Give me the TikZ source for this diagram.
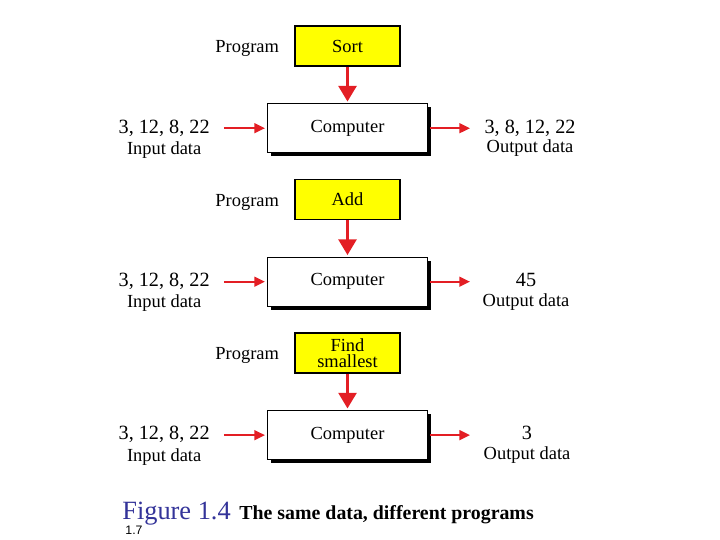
\documentclass[tikz,border=0pt]{standalone}
\usepackage{fontspec}
\setmainfont{Liberation Serif}
\setsansfont{Liberation Sans}
\usetikzlibrary{arrows.meta,positioning,shadows}
\definecolor{progyellow}{HTML}{FFFF00}
\definecolor{flowred}{HTML}{E31E24}
\definecolor{capblue}{HTML}{333399}
\tikzset{
  prog/.style={rectangle,draw=black,line width=0.8pt,fill=progyellow,
               minimum width=2.1cm,minimum height=0.8cm,align=center,
               font=\fontsize{10.5}{9}\selectfont,inner sep=0pt},
  comp/.style={rectangle,draw=black,line width=0.6pt,fill=white,
               minimum width=3.2cm,minimum height=0.98cm,
               drop shadow={shadow xshift=0.07cm,shadow yshift=-0.07cm,
                            fill=black,opacity=1},
               font=\fontsize{10.5}{12}\selectfont},
  lbl/.style={font=\fontsize{10.5}{12}\selectfont,inner sep=0pt,
              text height=7.5pt,text depth=2.2pt},
  plbl/.style={lbl,text depth=0pt},
  val/.style={font=\fontsize{11.5}{12}\selectfont,inner sep=0pt,
              text height=7.5pt,text depth=2pt},
  parr/.style={-{Triangle[length=9pt,width=10pt]},line width=2.2pt,
               color=flowred,shorten >=0.03cm},
  darr/.style={-{Triangle[length=6pt,width=5.5pt]},line width=1.2pt,
               color=flowred},
}
\begin{document}
\begin{tikzpicture}[node distance=0.73cm and 1cm]
  \useasboundingbox (0,0) rectangle (14.4,10.8);

  \node[prog] (sort) at (6.95,9.88) {Sort};
  \node[comp, below=0.73cm of sort] (c1) {Computer};
  \node[prog, below=0.51cm of c1]   (add) {Add};
  \node[comp, below=0.73cm of add]  (c2) {Computer};
  \node[prog, below=0.51cm of c2]   (find) {Find\\smallest};
  \node[comp, below=0.73cm of find] (c3) {Computer};

  \node[plbl, left=0.3cm of sort] (p1) {Program};
  \node[plbl, left=0.3cm of add]  (p2) {Program};
  \node[plbl, left=0.3cm of find] (p3) {Program};

  \node[val, left=1.14cm of c1] (in1) {3, 12, 8, 22};
  \node[lbl, below=0.08cm of in1] (il1) {Input data};
  \node[val, left=1.14cm of c2] (in2) {3, 12, 8, 22};
  \node[lbl, below=0.08cm of in2] (il2) {Input data};
  \node[val, left=1.14cm of c3] (in3) {3, 12, 8, 22};
  \node[lbl, below=0.08cm of in3] (il3) {Input data};

  \coordinate[right=0.84cm of c1] (e1);
  \coordinate[right=0.84cm of c2] (e2);
  \coordinate[right=0.84cm of c3] (e3);

  \node[val, right=2.04cm of c1.east, anchor=center] (o1) {3, 8, 12, 22};
  \node[lbl, below=0.05cm of o1] (ol1) {Output data};
  \node[val, right=1.96cm of c2.east, anchor=center] (o2) {45};
  \node[lbl, below=0.05cm of o2] (ol2) {Output data};
  \node[val, right=1.98cm of c3.east, anchor=center] (o3) {3};
  \node[lbl, below=0.05cm of o3] (ol3) {Output data};

  \draw[parr] (sort) -- (c1);
  \draw[parr] (add)  -- (c2);
  \draw[parr] (find) -- (c3);

  \draw[darr, shorten <=0.28cm, shorten >=0.04cm] (in1) -- (c1);
  \draw[darr, shorten <=0.28cm, shorten >=0.04cm] (in2) -- (c2);
  \draw[darr, shorten <=0.28cm, shorten >=0.04cm] (in3) -- (c3);
  \draw[darr, shorten <=0.04cm] (c1) -- (e1);
  \draw[darr, shorten <=0.04cm] (c2) -- (e2);
  \draw[darr, shorten <=0.04cm] (c3) -- (e3);

  \node[font=\fontsize{15}{18}\selectfont, text=capblue, anchor=base west,
        inner sep=0pt] (fig) at (2.44,0.40) {Figure 1.4};
  \node[font=\fontsize{11.3}{14}\selectfont\bfseries, anchor=base west,
        inner sep=0pt] (title) at ([xshift=0.16cm]fig.base east)
        {The same data, different programs};
  \node[font=\sffamily\fontsize{7}{8}\selectfont, inner sep=0pt] (pg)
        at (2.68,0.2) {1.7};
\end{tikzpicture}
\end{document}
